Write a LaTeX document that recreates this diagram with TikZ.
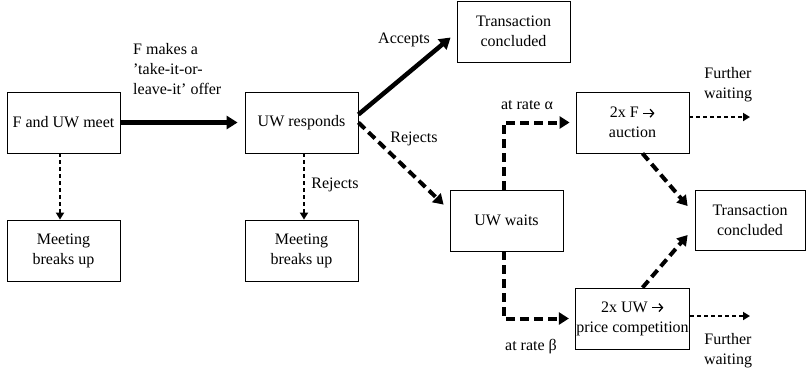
\documentclass[tikz,border=0pt]{standalone}
\usepackage{fontspec}
\setmainfont{Liberation Serif}
\usetikzlibrary{arrows.meta,calc}
\newcommand{\chevarrow}{\tikz[baseline=0pt]\draw[line width=1.3pt,solid,-{Straight Barb[length=3.5pt,width=8pt,line width=1.3pt]}] (0pt,4.5pt) -- (11pt,4.5pt);}
\begin{document}
\begin{tikzpicture}[x=1pt,y=-1pt,
  box/.style={draw,line width=0.8pt,minimum width=113pt,minimum height=61pt,inner sep=1pt,align=center,font=\fontsize{16}{20}\selectfont},
  lbl/.style={inner sep=0pt,align=center,font=\fontsize{16}{20}\selectfont},
  thickarrow/.style={line width=4.5pt,-{Triangle[length=11pt,width=13pt]}},
  thickdash/.style={line width=4pt,dash pattern=on 9pt off 5pt,-{Triangle[length=10pt,width=12pt]}},
  thindash/.style={line width=2pt,dash pattern=on 4pt off 3pt,-{Triangle[length=7pt,width=8pt]}}]
\useasboundingbox (0,0) rectangle (806,376);
\node[box] (meet) at (63.5,122.5) {F and UW meet};
\node[box] (resp) at (301.5,122.5) {UW responds};
\node[box] (mb1) at (63.5,250.5) {Meeting\\breaks up};
\node[box] (mb2) at (301.5,250.5) {Meeting\\breaks up};
\node[box] (tc1) at (513.5,31.5) {Transaction\\concluded};
\node[box] (auc) at (632.5,122.5) {2x F \chevarrow\\auction};
\node[box] (wait) at (506.5,220.5) {UW waits};
\node[box,minimum width=110pt,minimum height=60pt] (tc2) at (750,220) {Transaction\\concluded};
\node[box] (pc) at (632.5,318.5) {2x UW \chevarrow\\price competition};
\coordinate (fw1) at (750,117);
\coordinate (fw2) at (750,316);

\draw[thickarrow] (meet.east) -- ([xshift=-7pt]resp.west);
\draw[thickarrow] ([yshift=8pt]resp.east) -- ([xshift=-6pt,yshift=-6pt]tc1.west);
\draw[thickdash] (resp.east) -- ([xshift=-6pt,yshift=-15pt]wait.north west);
\draw[thindash] ([xshift=-3.5pt]meet.south) -- ([xshift=-3.5pt]mb1.north);
\draw[thindash] ([xshift=2.5pt]resp.south) -- ([xshift=2.5pt]mb2.north);
\draw[thickdash] ([xshift=-3pt]wait.north) |- ([xshift=-6pt]auc.west);
\draw[thickdash] ([xshift=-3pt]wait.south) |- ([xshift=-6pt]pc.west);
\draw[thickdash] ([xshift=10pt]auc.south) -- ([xshift=-7pt,yshift=14pt]tc2.west);
\draw[thickdash] ([xshift=10pt]pc.north) -- ([xshift=-7pt,yshift=-15pt]tc2.west);
\draw[thindash] ([yshift=5.5pt]auc.east) -- (fw1);
\draw[thindash] ([yshift=2.5pt]pc.east) -- (fw2);

\node[lbl,align=left,anchor=west] (offer) at (133,69) {F makes a\\’take-it-or-\\leave-it’ offer};
\node[lbl] (acc) at (404,40) {Accepts};
\node[lbl] (rej1) at (414,139) {Rejects};
\node[lbl] (rej2) at (335,185) {Rejects};
\node[lbl] (ra) at (527,105) {at rate α};
\node[lbl] (rb) at (531,347) {at rate β};
\node[lbl] (fwl1) at (728,85) {Further\\waiting};
\node[lbl] (fwl2) at (728,351) {Further\\waiting};
\end{tikzpicture}
\end{document}
